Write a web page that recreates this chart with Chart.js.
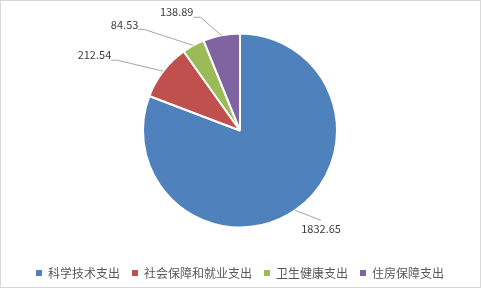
<!DOCTYPE html>
<html><head><meta charset="utf-8">
<script src="https://cdn.jsdelivr.net/npm/chart.js@4"></script>
<style>html,body{margin:0;padding:0;background:#fff}#c{display:block}</style>
</head>
<body>
<canvas id="c" width="482" height="290"></canvas>
<script>
const categories = ['科学技术支出', '社会保障和就业支出', '卫生健康支出', '住房保障支出'];
const values = [1832.65, 212.54, 84.53, 138.89];
const valueLabels = ['1832.65', '212.54', '84.53', '138.89'];
const colors = ['#4f81bd', '#c0504d', '#9bbb59', '#8064a2'];
// leader-line elbow offsets relative to each slice's outer edge midpoint
const labelLayout = [
  { dx: 26, dy: 10, tail: 0, below: true },
  { dx: -46, dy: -11, tail: -6 },
  { dx: -49, dy: -16, tail: -6 },
  { dx: -21, dy: -18, tail: -7 }
];

const frame = {
  id: 'frame',
  beforeDraw(chart) {
    const c = chart.ctx;
    c.save();
    c.fillStyle = '#fff';
    c.fillRect(0, 0, chart.width, chart.height);
    c.strokeStyle = '#d9d9d9';
    c.lineWidth = 1;
    c.strokeRect(0.5, 0.5, 480, 287);
    c.restore();
  }
};

const leaderLabels = {
  id: 'leaderLabels',
  afterDatasetsDraw(chart) {
    const c = chart.ctx;
    const meta = chart.getDatasetMeta(0);
    c.save();
    c.font = '11px "Noto Sans CJK SC", "Noto Sans", sans-serif';
    c.fillStyle = '#404040';
    c.strokeStyle = '#a6a6a6';
    c.lineWidth = 1;
    meta.data.forEach((arc, i) => {
      const p = arc.getProps(['x', 'y', 'startAngle', 'endAngle', 'outerRadius'], true);
      const a = (p.startAngle + p.endAngle) / 2;
      const ex = p.x + Math.cos(a) * p.outerRadius;
      const ey = p.y + Math.sin(a) * p.outerRadius;
      const L = labelLayout[i];
      const bx = ex + L.dx, by = ey + L.dy;
      c.beginPath();
      c.moveTo(ex, ey);
      c.lineTo(bx, by);
      if (L.tail) c.lineTo(bx + L.tail, by);
      c.stroke();
      c.textBaseline = 'middle';
      if (L.below) {
        c.textAlign = 'center';
        c.fillText(valueLabels[i], bx, by + 8);
      } else {
        c.textAlign = 'right';
        c.fillText(valueLabels[i], bx + L.tail, by - 5);
      }
    });
    c.restore();
  }
};

const baseGen = Chart.overrides.doughnut.plugins.legend.labels.generateLabels;

new Chart(document.getElementById('c'), {
  type: 'pie',
  data: {
    labels: categories,
    datasets: [{
      data: values,
      backgroundColor: colors,
      borderColor: '#ffffff',
      borderWidth: 2,
      radius: 97
    }]
  },
  options: {
    responsive: false,
    animation: false,
    layout: { padding: { top: 6, bottom: 1, left: 0, right: 2 } },
    plugins: {
      tooltip: { enabled: false },
      legend: {
        position: 'bottom',
        labels: {
          boxWidth: 6,
          boxHeight: 6,
          padding: 12,
          color: '#595959',
          font: { size: 12, family: '"Noto Sans CJK SC", "Noto Sans", sans-serif' },
          generateLabels(chart) {
            return baseGen(chart).map(l => Object.assign(l, { lineWidth: 0, strokeStyle: l.fillStyle }));
          }
        }
      }
    }
  },
  plugins: [frame, leaderLabels]
});
</script>
</body></html>
